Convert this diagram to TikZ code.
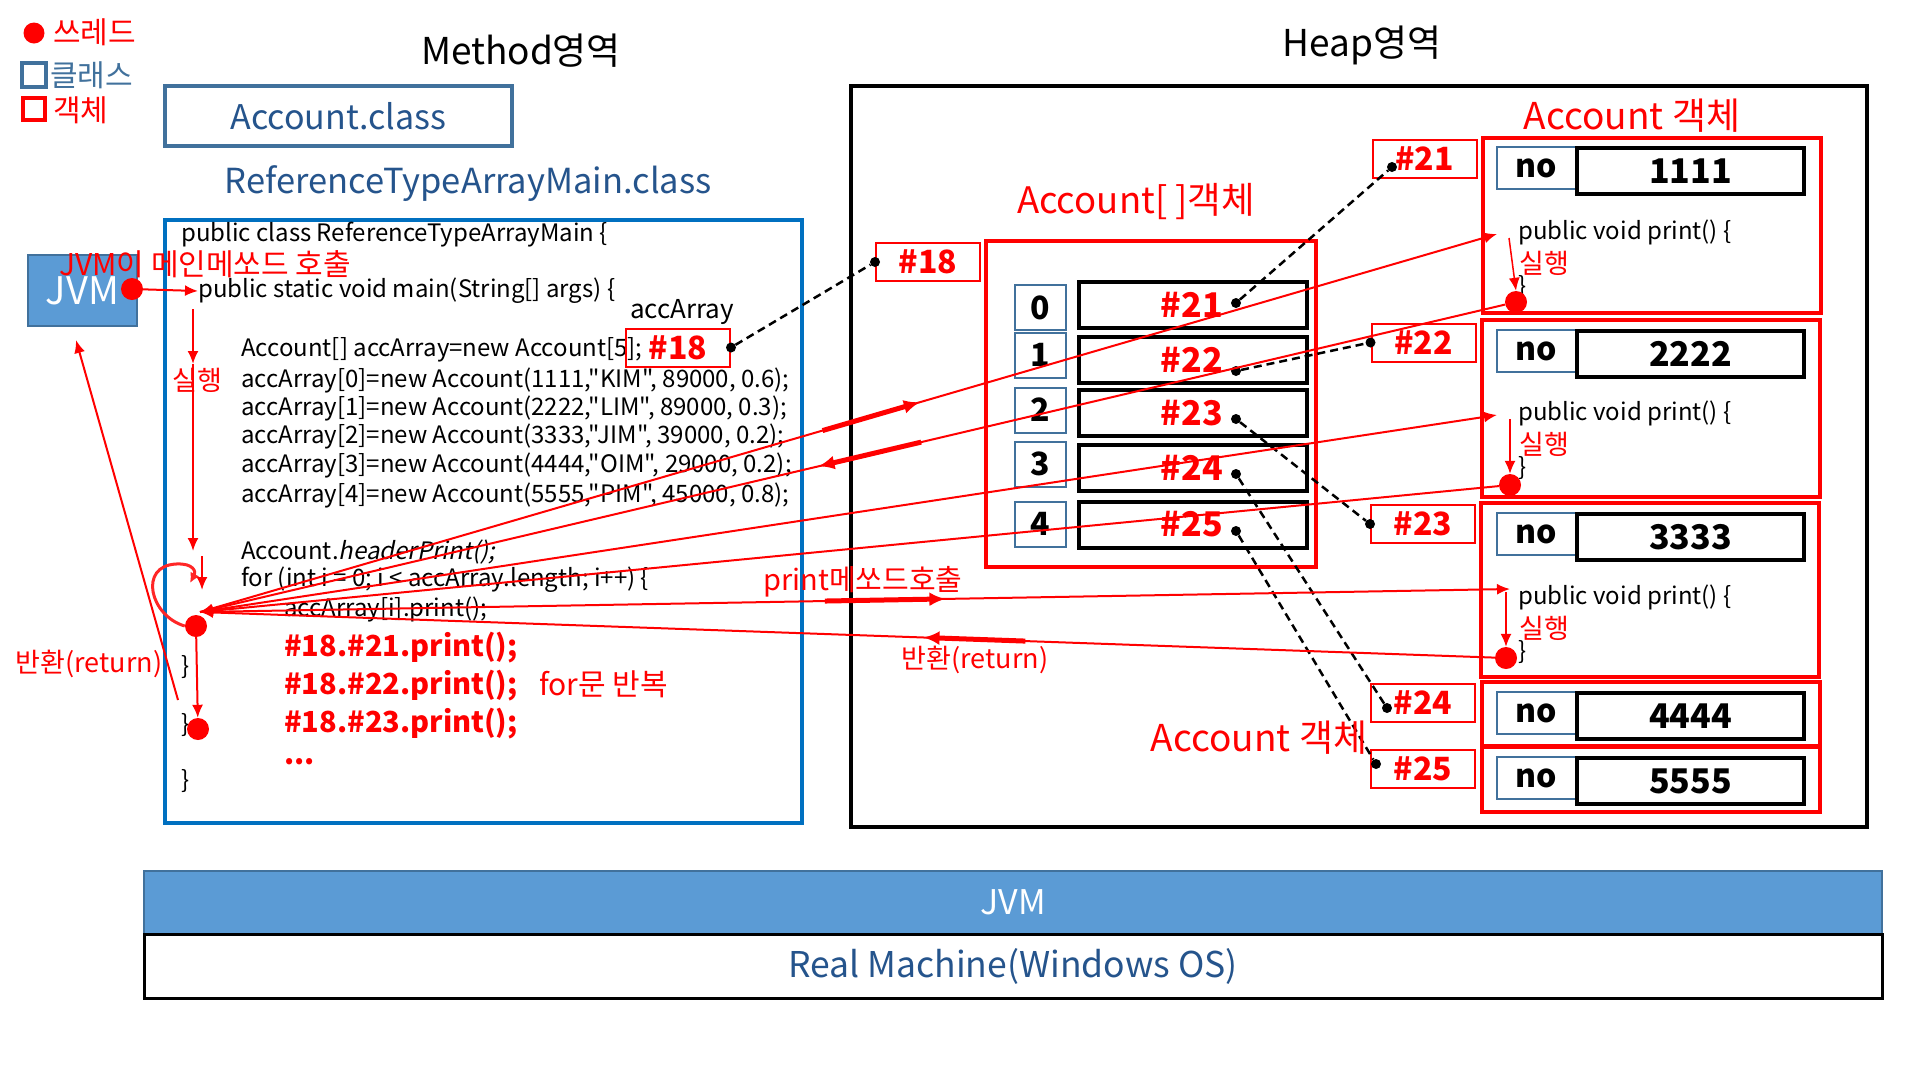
\documentclass[tikz,border=0pt]{standalone}
\usepackage{fontspec}
\setmainfont{Noto Sans CJK KR}
\newfontfamily\codefont{Noto Sans CJK KR}
\newfontfamily\slantfont{Noto Sans CJK KR}[FakeSlant=0.2]
\usetikzlibrary{arrows.meta,calc}

\definecolor{jvmblue}{RGB}{91,155,213}
\definecolor{edgeblue}{RGB}{65,113,156}
\definecolor{codeblue}{RGB}{0,112,192}
\definecolor{classblue}{RGB}{37,84,140}
\newcommand{\setfs}[1]{\fontsize{#1}{#1}\selectfont}

\begin{document}
\begin{tikzpicture}[x=1pt, y=-1pt,
    txt/.style={inner sep=0pt},
    codeln/.style={anchor=west, inner sep=0pt, font=\codefont\setfs{24}},
    redtxt/.style={inner sep=0pt, text=red},
    hotln/.style={anchor=west, inner sep=0pt, text=red, font=\setfs{29}\bfseries},
    reddot/.style={circle, fill=red, inner sep=0pt, minimum size=22},
    blackdot/.style={circle, fill=black, inner sep=0pt, minimum size=10},
    addr/.style={draw=red, line width=2, minimum width=104, minimum height=38, inner sep=0pt, text=red, font=\setfs{32}\bfseries},
    idx/.style={draw=edgeblue, line width=2, minimum width=51, minimum height=45, inner sep=0pt, font=\setfs{32}\bfseries},
    slot/.style={draw=black, line width=4, minimum width=228, minimum height=46, inner sep=0pt},
    slottxt/.style={inner sep=0pt, text=red, font=\setfs{34}\bfseries},
    objbox/.style={draw=red, line width=4, minimum width=338, inner sep=0pt},
    nobox/.style={draw=edgeblue, line width=2, minimum width=79, minimum height=42, inner sep=0pt, font=\setfs{32}\bfseries},
    valbox/.style={draw=black, line width=4, minimum width=227, minimum height=46, inner sep=0pt, font=\setfs{34}\bfseries},
    flow/.style={red, line width=2, -{Latex[length=13,width=11]}},
    refline/.style={black, line width=2.5, dash pattern=on 8pt off 5pt},
    midarrow/.style={red, line width=5, -{Latex[length=16,width=14]}}
  ]
\useasboundingbox (0,0) rectangle (1920,1080);

\node[reddot, minimum size=21] (lgdot) at (34,33) {};
\node[redtxt, anchor=west, font=\setfs{30}] (lgthread) at (53,32) {쓰레드};
\node[draw=edgeblue, line width=3.5, minimum size=24, inner sep=0pt] (lgclassbox) at (34,75) {};
\node[txt, anchor=west, text=edgeblue, font=\setfs{30}] (lgclass) at (50,75) {클래스};
\node[draw=red, line width=3.5, minimum size=22, inner sep=0pt] (lgobjbox) at (34,109) {};
\node[redtxt, anchor=west, font=\setfs{30}] (lgobj) at (53,110) {객체};

\node[txt, font=\setfs{37}] (methodarea) at (521,51) {Method영역};
\node[draw=edgeblue, line width=3.5, minimum width=347, minimum height=60, text=classblue, font=\setfs{34}] (accclass) at (338.5,116) {Account.class};
\node[txt, text=classblue, font=\setfs{34.5}] (mainclass) at (468,184) {ReferenceTypeArrayMain.class};
\node[draw=codeblue, line width=3.5, minimum width=637, minimum height=603, inner sep=0pt] (methodbox) at (483.5,521.5) {};

\node[codeln] (l1) at (181,235) {public class ReferenceTypeArrayMain \{};
\node[codeln] (l2) at (198,291) {public static void main(String[] args) \{};
\node[codeln] (l3) at (241,350) {Account[] accArray=new Account[5];};
\node[codeln] (l4) at (241,380) {accArray[0]=new Account(1111,"KIM", 89000, 0.6);};
\node[codeln] (l5) at (241,408) {accArray[1]=new Account(2222,"LIM", 89000, 0.3);};
\node[codeln] (l6) at (241,436) {accArray[2]=new Account(3333,"JIM", 39000, 0.2);};
\node[codeln] (l7) at (241,465) {accArray[3]=new Account(4444,"OIM", 29000, 0.2);};
\node[codeln] (l8) at (241,495) {accArray[4]=new Account(5555,"PIM", 45000, 0.8);};
\node[codeln] (l9) at (241,552) {Account.{\slantfont headerPrint();}};
\node[codeln] (l10) at (241,580) {for (int i = 0; i < accArray.length; i++) \{};
\node[codeln] (l11) at (284,609) {accArray[i].print();};
\node[codeln] (l12) at (181,667) {\}};
\node[codeln] (l13) at (181,725) {\}};
\node[codeln] (l14) at (181,781) {\}};

\node[hotln] (h1) at (284,648) {\#18.\#21.print();};
\node[hotln] (h2) at (284,686) {\#18.\#22.print();};
\node[redtxt, anchor=west, font=\setfs{30}] (forloop) at (539,684) {for문 반복};
\node[hotln] (h3) at (284,724) {\#18.\#23.print();};
\node[hotln] (h4) at (284,762) {...};

\node[txt, font=\setfs{26}] (accname) at (682,312) {accArray};
\node[addr] (ref18) at (678,347.5) {\#18};
\node[blackdot] (ref18dot) at (ref18.east) {};

\node[fill=jvmblue, draw=edgeblue, line width=2, minimum width=109, minimum height=71, text=white, font=\setfs{38}] (jvm) at (82.5,290.5) {JVM};
\node[redtxt, font=\setfs{30}] (jvmcall) at (205,264) {JVM이 메인메쏘드 호출};
\node[reddot] (jvmdot) at (132,289) {};
\draw[flow] (jvmdot) -- (l2.west);

\coordinate (go0) at (193,309);
\coordinate (go1) at (193,364);
\coordinate (go2) at (193,551);
\node[redtxt, font=\setfs{27}] (run) at (197,380) {실행};
\draw[flow] (go0) -- (go1);
\draw[flow] (go1) -- (go2);
\coordinate (loop0) at (202,556);
\coordinate (loop1) at (202,590);
\draw[flow] (loop0) -- (loop1);

\node[reddot] (thread) at (196,626) {};
\coordinate (hub) at (200,612);
\node[reddot] (done) at (198,729) {};
\draw[flow] (thread) -- (done);
\draw[red!85!white, line width=3, -{Latex[length=10,width=10]}] (thread.west) .. controls (150,616) and (138,566) .. (176,564) .. controls (194,563) and (196,572) .. (190,583);

\coordinate (retjvm) at (178,700);
\coordinate (jvmin) at (76,340);
\draw[flow] (retjvm) -- (jvmin);
\node[redtxt, font=\setfs{27}] (retlbl) at (89,664) {반환(return)};

\node[txt, font=\setfs{37}] (heaparea) at (1362,45) {Heap영역};
\node[draw=black, line width=3.5, minimum width=1016, minimum height=741, inner sep=0pt] (heapbox) at (1359,456.5) {};
\node[redtxt, font=\setfs{36.5}] (arrlbl) at (1136,202) {Account[ ]객체};
\node[draw=red, line width=4, minimum width=330, minimum height=326, inner sep=0pt] (arrbox) at (1151,404) {};
\node[addr] (heap18) at (928,262) {\#18};
\node[blackdot] (heap18dot) at (heap18.west) {};
\draw[refline] (ref18dot) -- (heap18dot);

\foreach \i/\y/\ys/\d/\a in {0/307.5/304.5/303/21, 1/355/360/371/22, 2/410/413/419/23, 3/464/468/474/24, 4/524/524.5/531/25} {
  \node[idx] (idx\i) at (1040.5,\y) {\i};
  \node[slot] (slot\i) at (1193,\ys) {};
  \node[slottxt] (slottxt\i) at (1192,\ys) {\#\a};
  \node[blackdot] (slotdot\i) at (1236,\d) {};
}

\node[addr] (addr21) at (1424.5,159) {\#21};
\node[blackdot] (addr21dot) at (1392,167) {};
\node[addr] (addr22) at (1423.5,342.5) {\#22};
\node[blackdot] (addr22dot) at (addr22.west) {};
\node[addr] (addr23) at (1423,524) {\#23};
\node[blackdot] (addr23dot) at (addr23.west) {};
\node[addr] (addr24) at (1423,703) {\#24};
\node[blackdot] (addr24dot) at (1387,708) {};
\node[addr] (addr25) at (1423,769) {\#25};
\node[blackdot] (addr25dot) at (1376,764) {};
\draw[refline] (slotdot0) -- (addr21dot);
\draw[refline] (slotdot1) -- (addr22dot);
\draw[refline] (slotdot2) -- (addr23dot);
\draw[refline] (slotdot3) -- (addr24dot);
\draw[refline] (slotdot4) -- (addr25dot);

\node[objbox, minimum height=175] (obj1) at (1652,225.5) {};
\node[objbox, minimum height=177] (obj2) at (1651,408.5) {};
\node[objbox, minimum height=174] (obj3) at (1650,590) {};
\node[objbox, minimum height=64] (obj4) at (1651,714) {};
\node[objbox, minimum height=65] (obj5) at (1651,779.5) {};
\node[redtxt, font=\setfs{37}] (objlbl1) at (1632,116) {Account 객체};
\node[redtxt, font=\setfs{37}] (objlbl2) at (1259,738) {Account 객체};

\foreach \k/\y/\v in {1/168/1111, 2/351/2222, 3/534/3333, 4/713/4444, 5/778/5555} {
  \node[nobox] (no\k) at (1536.5,\y) {no};
  \node[valbox] (val\k) at (1690.5,\y+3) {\v};
}

\foreach \k/\y in {1/232, 2/413, 3/597} {
  \node[codeln, font=\codefont\setfs{24}] (pr\k) at (1518,\y) {public void print() \{};
  \node[redtxt, anchor=west, font=\setfs{27}] (exec\k) at (1519,\y+31) {실행};
  \node[codeln, font=\codefont\setfs{24}] (close\k) at (1518,\y+55) {\}};
}

\coordinate (oin1) at (1497,234);
\coordinate (otop1) at (1509,238);
\node[reddot] (odot1) at (1516,302) {};
\coordinate (oin2) at (1497,415);
\coordinate (otop2) at (1510,419);
\node[reddot] (odot2) at (1510,485) {};
\coordinate (oin3) at (1510,589);
\coordinate (otop3) at (1506,592);
\node[reddot] (odot3) at (1506,658) {};
\draw[flow, line width=1.5] (otop1) -- (odot1.north);
\draw[flow, line width=1.5] (otop2) -- (odot2.north);
\draw[flow, line width=1.5] (otop3) -- (odot3.north);

\draw[flow] (hub) -- (oin1);
\draw[flow] (odot1) -- (hub);
\draw[flow] (hub) -- (oin2);
\draw[flow] (odot2) -- (hub);
\draw[flow] (hub) -- (oin3);
\draw[flow] (odot3) -- (hub);
\draw[midarrow] ($(hub)!0.48!(oin1)$) -- ($(hub)!0.555!(oin1)$);
\draw[midarrow] ($(odot1)!0.452!(hub)$) -- ($(odot1)!0.53!(hub)$);
\draw[midarrow] ($(hub)!0.477!(oin3)$) -- ($(hub)!0.569!(oin3)$);
\draw[midarrow] ($(odot3)!0.368!(hub)$) -- ($(odot3)!0.446!(hub)$);
\node[redtxt, font=\setfs{29}] (calllbl) at (863,582) {print메쏘드호출};
\node[redtxt, font=\setfs{27}] (retlbl2) at (975,660) {반환(return)};

\node[fill=jvmblue, draw=edgeblue, line width=1.5, minimum width=1738, minimum height=63, inner sep=0pt, text=white, font=\setfs{34}] (jvmbar) at (1013,902.5) {JVM};
\node[draw=black, line width=3, minimum width=1738, minimum height=64, inner sep=0pt, text=classblue, font=\setfs{35.5}] (osbar) at (1013,966) {Real Machine(Windows OS)};
\end{tikzpicture}
\end{document}
